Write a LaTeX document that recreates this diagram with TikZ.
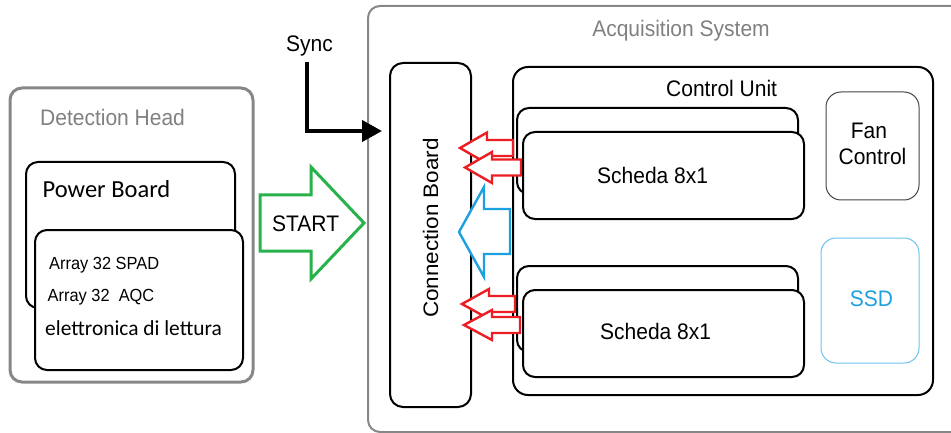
\documentclass[tikz,border=0pt]{standalone}
\usepackage{fontspec}
\setmainfont{Liberation Sans}
\newfontfamily\calib{Carlito}
\usetikzlibrary{arrows.meta}

\definecolor{framegray}{RGB}{135,135,135}
\definecolor{titlegray}{RGB}{128,128,128}
\definecolor{startgreen}{RGB}{40,178,76}
\definecolor{linkred}{RGB}{236,30,36}
\definecolor{databl}{RGB}{27,161,226}
\definecolor{ssdedge}{RGB}{110,195,236}
\definecolor{ssdtext}{RGB}{30,160,225}
\definecolor{fanedge}{RGB}{70,70,70}

\tikzset{
  frame/.style={draw=framegray, line width=3pt, rounded corners=12pt},
  board/.style={draw=black, line width=2pt, fill=white, rounded corners=12pt},
  panel/.style={line width=1pt, rounded corners=15pt},
  lbl/.style={inner sep=0pt, yscale=1.07, font=\fontsize{21}{25}\selectfont},
  title/.style={lbl, text=titlegray},
  small/.style={inner sep=0pt, yscale=1.07, font=\fontsize{16.4}{19}\selectfont},
  redarrow/.style={draw=linkred, line width=2.4pt, fill=white, line join=miter},
  bluearrow/.style={draw=databl, line width=2.4pt, fill=white, line join=miter},
  greenarrow/.style={draw=startgreen, line width=3pt, fill=white, line join=miter},
  syncline/.style={line width=4pt, -{Triangle[length=20pt,width=21pt]}}
}

\begin{document}
\begin{tikzpicture}[x=1pt, y=-1pt]
\useasboundingbox (0,0) rectangle (951,433);
\clip (0,0) rectangle (951,433);

% --- Detection head -------------------------------------------------
\draw[frame] (10,88) rectangle (253,382);
\node[title, anchor=base west] (dhtitle) at (40,126) {Detection Head};
\draw[board] (26,162) rectangle (235,308);
\node[inner sep=0pt, anchor=base west, font=\calib\fontsize{24.5}{28}\selectfont] (pwr) at (42.5,197) {Power Board};
\draw[board] (35,230) rectangle (243,370);
\node[small, anchor=base west] (spad) at (49,269) {Array 32 SPAD};
\node[small, anchor=base west] (aqc) at (47.5,301) {Array 32\ \ AQC};
\node[inner sep=0pt, anchor=base west, font=\calib\fontsize{21.4}{25}\selectfont] (lett) at (45,335) {elettronica di lettura};

% --- START block arrow ----------------------------------------------
\draw[greenarrow] (260,195) -- (311,195) -- (311,167) -- (364,223)
  -- (311,279) -- (311,251) -- (260,251) -- cycle;
\node[lbl, anchor=base west] (start) at (272,231) {START};

% --- Acquisition system ---------------------------------------------
\draw[draw=framegray, line width=2pt, rounded corners=12pt] (368,6) rectangle (975,432);
\node[title, anchor=base] (astitle) at (681,36.5) {Acquisition System};

% connection board
\draw[board, rounded corners=13pt] (390,63) rectangle (471,407);
\node[lbl, rotate=90, anchor=base] (cbtext) at (438,228) {Connection Board};

% control unit
\draw[board, rounded corners=15pt] (513,67) rectangle (933,395);
\node[lbl, anchor=base west] (cutitle) at (666,97) {Control Unit};

% upper pair of 8x1 boards
\draw[board] (517,108) rectangle (798,194);
\draw[board] (523,132) rectangle (804,219);
\node[lbl, anchor=base west] (sch1) at (597,184) {Scheda 8x1};

% lower pair of 8x1 boards
\draw[board] (517,266) rectangle (798,352);
\draw[board] (523,290) rectangle (804,377);
\node[lbl, anchor=base west] (sch2) at (600,339) {Scheda 8x1};

% fan control and storage
\draw[panel, draw=fanedge] (826,92) rectangle (919,200);
\node[lbl, anchor=base] (fan) at (869,139) {Fan};
\node[lbl, anchor=base] (fanctl) at (872.5,165) {Control};
\draw[panel, draw=ssdedge] (821,238) rectangle (919,363);
\node[lbl, anchor=base, text=ssdtext] (ssd) at (871.5,306) {SSD};

% --- Sync input -----------------------------------------------------
\node[lbl, anchor=base west] (sync) at (286,52) {Sync};
\coordinate (syncfrom) at (307,62);
\coordinate (syncto) at (382,131);
\draw[syncline] (syncfrom) |- (syncto);

% --- data links towards the connection board -------------------------
\draw[redarrow] (513,140) -- (487,140) -- (487,132.5) -- (460,148)
  -- (487,163.5) -- (487,156) -- (513,156) -- cycle;
\draw[redarrow] (521,159.5) -- (492,159.5) -- (492,152) -- (465,167.5)
  -- (492,183) -- (492,175.5) -- (521,175.5) -- cycle;
\draw[redarrow] (515,296) -- (489,296) -- (489,289) -- (462,304)
  -- (489,319) -- (489,312) -- (515,312) -- cycle;
\draw[redarrow] (520,317) -- (492,317) -- (492,310) -- (464,325)
  -- (492,340) -- (492,333) -- (520,333) -- cycle;
\draw[bluearrow] (510,209) -- (484,209) -- (484,187) -- (459,232)
  -- (484,277) -- (484,254) -- (510,254) -- cycle;
\end{tikzpicture}
\end{document}
